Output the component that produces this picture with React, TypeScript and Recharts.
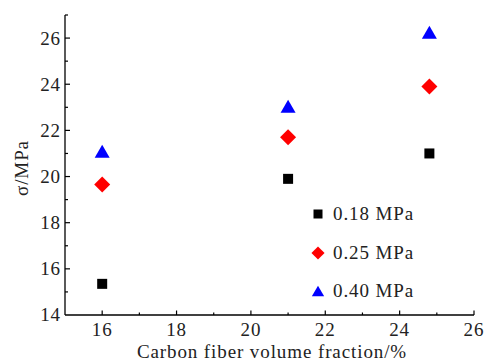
import React from 'react';
import { ScatterChart, Scatter, XAxis, YAxis, Legend, Label } from 'recharts';

const xValues = [16, 21, 24.8];
const s018 = [15.35, 19.9, 21.0];
const s025 = [19.65, 21.7, 23.9];
const s040 = [21.1, 23.05, 26.25];
const seriesNames = ['0.18 MPa', '0.25 MPa', '0.40 MPa'];
const seriesColors = ['#000000', '#ff0000', '#0000ff'];
const seriesShapes = ['square', 'diamond', 'triangle'];
const xTicks = [15, 16, 17, 18, 19, 20, 21, 22, 23, 24, 25, 26];
const yTicks = [14, 15, 16, 17, 18, 19, 20, 21, 22, 23, 24, 25, 26, 27];
const xTitle = 'Carbon fiber volume fraction/%';
const yTitle = 'σ/MPa';

const FONT = '"Liberation Serif", "Times New Roman", serif';
const FS = 19;
const LS = 0.9;

const seriesData = [s018, s025, s040].map((s) => xValues.map((x, i) => ({ x, y: s[i] })));

function Marker({ kind, cx, cy, color, scale = 1 }: any) {
  if (kind === 'square') {
    const h = 5 * scale;
    return <rect x={cx - h} y={cy - h} width={2 * h} height={2 * h} fill={color} />;
  }
  if (kind === 'diamond') {
    const h = 8 * scale;
    return <polygon points={`${cx},${cy - h} ${cx + h},${cy} ${cx},${cy + h} ${cx - h},${cy}`} fill={color} />;
  }
  const w = 7.5 * scale;
  const hh = 6.5 * scale;
  return <polygon points={`${cx},${cy - hh} ${cx + w},${cy + hh} ${cx - w},${cy + hh}`} fill={color} />;
}

const XTick = (props: any) => {
  const { x, y, payload } = props;
  const v = payload.value;
  const major = v % 2 === 0;
  return (
    <g>
      {v !== 15 && <line x1={x} y1={y} x2={x} y2={y - (major ? 4.5 : 2.5)} stroke="#000" strokeWidth={1.2} />}
      {major && (
        <text x={x} y={y + 21} textAnchor="middle" fontFamily={FONT} fontSize={FS} letterSpacing={LS} fill="#222">
          {v}
        </text>
      )}
    </g>
  );
};

const YTick = (props: any) => {
  const { x, y, payload } = props;
  const v = payload.value;
  const major = v % 2 === 0;
  return (
    <g>
      {v !== 14 && <line x1={x} y1={y} x2={x + (major ? 5 : 3)} y2={y} stroke="#000" strokeWidth={1.2} />}
      {major && (
        <text x={x - 4} y={y} dy="0.34em" textAnchor="end" fontFamily={FONT} fontSize={FS} letterSpacing={LS} fill="#222">
          {v}
        </text>
      )}
    </g>
  );
};

const LegendContent = () => (
  <div style={{ fontFamily: FONT, fontSize: FS, letterSpacing: LS, color: '#222' }}>
    {seriesNames.map((name, i) => (
      <div key={name} style={{ display: 'flex', alignItems: 'center', height: 38.5 }}>
        <svg width={26} height={20} style={{ display: 'block' }}>
          <Marker kind={seriesShapes[i]} cx={13} cy={10} color={seriesColors[i]} scale={i === 0 ? 0.9 : 0.82} />
        </svg>
        <span style={{ marginLeft: 2, lineHeight: '20px' }}>{name}</span>
      </div>
    ))}
  </div>
);

export default function App() {
  return (
    <div style={{ position: 'absolute', left: 0, top: 0, width: 501, height: 363, background: '#fff' }}>
      <ScatterChart width={501} height={363} margin={{ top: 15, right: 27, bottom: 0, left: 0 }}>
        <XAxis
          type="number"
          dataKey="x"
          domain={[15, 26]}
          ticks={xTicks}
          interval={0}
          height={48}
          tickSize={0}
          tickMargin={0}
          tick={<XTick />}
          axisLine={{ stroke: '#000', strokeWidth: 1.3 }}
          tickLine={false}
        >
          <Label
            content={(p: any) => {
              const vb = p.viewBox;
              return (
                <text x={272} y={vb.y + 43} textAnchor="middle" fontFamily={FONT} fontSize={FS} letterSpacing={LS} fill="#222">
                  {xTitle}
                </text>
              );
            }}
          />
        </XAxis>
        <YAxis
          type="number"
          dataKey="y"
          domain={[14, 27]}
          ticks={yTicks}
          interval={0}
          width={65}
          tickSize={0}
          tickMargin={0}
          tick={<YTick />}
          axisLine={{ stroke: '#000', strokeWidth: 1.3 }}
          tickLine={false}
        >
          <Label
            content={() => (
              <text
                x={28}
                y={168}
                textAnchor="middle"
                transform="rotate(-90, 28, 168)"
                fontFamily={FONT}
                fontSize={FS}
                letterSpacing={LS}
                fill="#222"
              >
                {yTitle}
              </text>
            )}
          />
        </YAxis>
        <Legend
          layout="vertical"
          align="center"
          verticalAlign="middle"
          content={<LegendContent />}
          wrapperStyle={{ left: 305, top: 195, width: 140, height: 116 }}
        />
        {seriesData.map((d, i) => (
          <Scatter
            key={seriesNames[i]}
            name={seriesNames[i]}
            data={d}
            fill={seriesColors[i]}
            isAnimationActive={false}
            shape={(p: any) => <Marker kind={seriesShapes[i]} cx={p.cx} cy={p.cy} color={seriesColors[i]} />}
          />
        ))}
      </ScatterChart>
    </div>
  );
}
